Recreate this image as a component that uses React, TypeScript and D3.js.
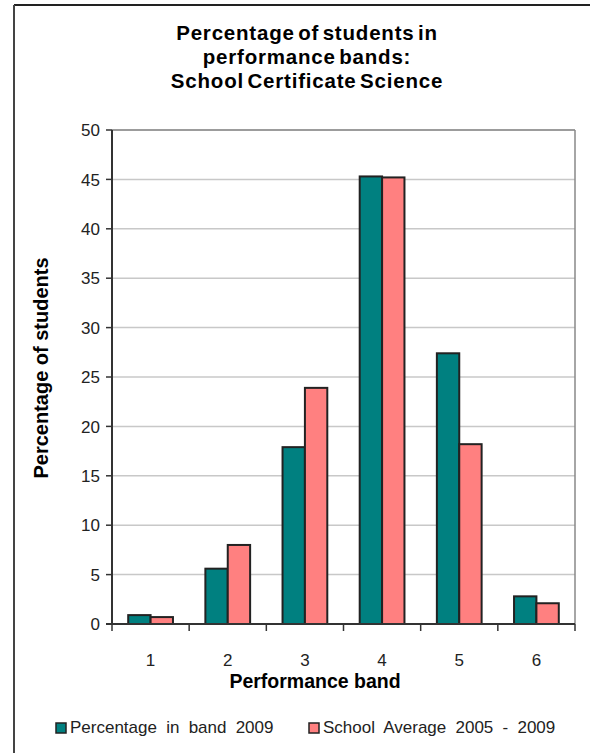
import React from "react";
import * as d3 from "d3";

// Performance bands on the x axis
const bands: string[] = ["1", "2", "3", "4", "5", "6"];
// Percentage of students in each band, 2009
const pct2009: number[] = [0.9, 5.6, 17.9, 45.3, 27.4, 2.8];
// School average over 2005 - 2009
const schoolAvg: number[] = [0.7, 8.0, 23.9, 45.2, 18.2, 2.1];
const seriesNames: string[] = ["Percentage in band 2009", "School Average 2005 - 2009"];
const seriesColors: string[] = ["#008080", "#FF8080"];
const yTicks: number[] = [0, 5, 10, 15, 20, 25, 30, 35, 40, 45, 50];
const titleLines: string[] = [
  "Percentage of students in",
  "performance bands:",
  "School Certificate Science",
];

const W = 590;
const H = 753;
const plot = { left: 112, right: 575, top: 130, bottom: 624 };
const font = "'Liberation Sans', Arial, sans-serif";

export default function App() {
  const x = d3
    .scaleBand<string>()
    .domain(bands)
    .range([plot.left, plot.right])
    .paddingInner(0.42)
    .paddingOuter(0.21);
  const xs = d3.scaleBand<number>().domain([0, 1]).range([0, x.bandwidth()]);
  const y = d3.scaleLinear().domain([0, 50]).range([plot.bottom, plot.top]);
  const series = [pct2009, schoolAvg];
  const step = x.step();
  const boundaries = d3.range(bands.length + 1).map((i) => plot.left + i * step);

  return (
    <svg
      width={W}
      height={H}
      style={{ position: "absolute", left: 0, top: 0, background: "#fff" }}
      fontFamily={font}
    >
      {/* outer frame */}
      <line x1={14} x2={W} y1={5} y2={5} stroke="#222" strokeWidth={2} />
      <line x1={14} x2={14} y1={5} y2={H} stroke="#444" strokeWidth={2} />

      {/* title */}
      <g fontWeight="bold" fontSize={20.5} textAnchor="middle" fill="#000">
        {titleLines.map((t, i) => (
          <text key={i} x={307} y={39.5 + i * 24} letterSpacing={0.8} wordSpacing={-3}>
            {t}
          </text>
        ))}
      </g>

      {/* gridlines */}
      {yTicks.map((t) => (
        <line
          key={"g" + t}
          x1={plot.left}
          x2={plot.right}
          y1={y(t)}
          y2={y(t)}
          stroke="#c8c8c8"
          strokeWidth={1.5}
        />
      ))}

      {/* plot area frame (top, right) */}
      <line x1={plot.left} x2={plot.right} y1={plot.top} y2={plot.top} stroke="#888" strokeWidth={1.5} />
      <line x1={plot.right} x2={plot.right} y1={plot.top} y2={plot.bottom} stroke="#888" strokeWidth={1.5} />

      {/* bars */}
      {bands.map((b, i) => (
        <g key={b}>
          {series.map((s, j) => (
            <rect
              key={j}
              x={(x(b) as number) + (xs(j) as number)}
              y={y(s[i])}
              width={xs.bandwidth()}
              height={y(0) - y(s[i])}
              fill={seriesColors[j]}
              stroke="#222"
              strokeWidth={2}
            />
          ))}
        </g>
      ))}

      {/* y axis */}
      <line x1={plot.left} x2={plot.left} y1={plot.top} y2={plot.bottom} stroke="#333" strokeWidth={2} />
      {yTicks.map((t) => (
        <g key={"y" + t}>
          <line x1={plot.left - 6} x2={plot.left} y1={y(t)} y2={y(t)} stroke="#333" strokeWidth={1.5} />
          <text x={100} y={y(t)} dy="0.36em" textAnchor="end" fontSize={17} fill="#222">
            {t}
          </text>
        </g>
      ))}

      {/* x axis */}
      <line x1={plot.left - 6} x2={plot.right} y1={plot.bottom} y2={plot.bottom} stroke="#333" strokeWidth={2} />
      {boundaries.map((bx, i) => (
        <line key={"xt" + i} x1={bx} x2={bx} y1={plot.bottom} y2={plot.bottom + 7} stroke="#333" strokeWidth={1.5} />
      ))}
      {bands.map((b) => (
        <text
          key={"xl" + b}
          x={(x(b) as number) + x.bandwidth() / 2}
          y={666}
          textAnchor="middle"
          fontSize={17}
          fill="#222"
        >
          {b}
        </text>
      ))}

      {/* axis titles */}
      <text x={315} y={688} textAnchor="middle" fontWeight="bold" fontSize={19.5} fill="#000">
        Performance band
      </text>
      <text
        transform={`translate(48, ${368}) rotate(-90)`}
        textAnchor="middle"
        fontWeight="bold"
        fontSize={20}
        fill="#000"
      >
        Percentage of students
      </text>

      {/* legend */}
      {seriesNames.map((n, j) => {
        const lx = j === 0 ? 56 : 309;
        return (
          <g key={"lg" + j}>
            <rect x={lx} y={723} width={10} height={10} fill={seriesColors[j]} stroke="#222" strokeWidth={1.5} />
            <text x={lx + 14} y={733} fontSize={17} fill="#222" wordSpacing={4.5}>
              {n}
            </text>
          </g>
        );
      })}
    </svg>
  );
}
